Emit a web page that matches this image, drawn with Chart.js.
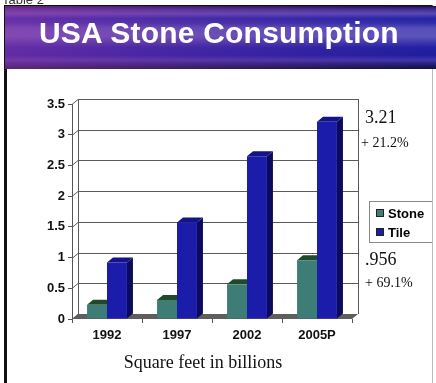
<!DOCTYPE html>
<html lang="en">
<head>
<meta charset="UTF-8">
<title>USA Stone Consumption</title>
<script src="https://cdn.jsdelivr.net/npm/chart.js"></script>
<style>
  body {
    margin: 0;
    width: 436px;
    height: 383px;
    background: #fff;
    position: relative;
    overflow: hidden;
    font-family: "Liberation Sans", Arial, sans-serif;
  }
  #grafico { position: absolute; left: 0; top: 0; }
  .tabela {
    position: absolute; left: 2px; top: -8px;
    font-size: 13px; color: #333;
  }
  .moldura {
    position: absolute; left: 4px; top: 5px; width: 429px; height: 380px;
    border-left: 3px solid #111; border-top: 1px solid #111;
    border-right: 1px solid #bbb;
    box-sizing: border-box;
  }
  .faixa {
    position: absolute; left: 5px; top: 6px; width: 431px; height: 63px;
    background:
      linear-gradient(to right, rgba(170, 60, 170, 0.5) 0%, rgba(150, 60, 170, 0.3) 45%, rgba(80, 70, 180, 0.05) 100%),
      linear-gradient(to bottom,
        #1a0a40 0%, #40309a 6%, #5a48b4 12%, #2222a4 20%, #2c2ca8 27%,
        #5450b8 35%, #5c56bc 48%, #3a36aa 58%, #1e1ea2 66%, #1a1a9c 78%,
        #3e34aa 86%, #221e70 92%, #0c0c40 100%);
  }
  .faixa span {
    position: absolute; left: 34px; top: 10px;
    color: #fff; font-weight: bold; font-size: 30px;
    font-family: "Liberation Sans", Arial, sans-serif;
    letter-spacing: 0.2px;
  }
  .nota {
    position: absolute;
    font-family: "Liberation Serif", "Times New Roman", serif;
    color: #111; line-height: 1;
  }
  .grande { font-size: 18px; }
  .pequena { font-size: 14px; }
  .unidade {
    position: absolute; left: 0; width: 406px; top: 353px;
    text-align: center; font-size: 18px; line-height: 1;
    font-family: "Liberation Serif", "Times New Roman", serif; color: #111;
  }
</style>
</head>
<body>
  <canvas id="grafico" width="436" height="383"></canvas>
  <div class="tabela">Table 2</div>
  <div class="moldura"></div>
  <div class="faixa"><span>USA Stone Consumption</span></div>

  <div class="nota grande" id="nota-tile" style="left:365px; top:108px;"></div>
  <div class="nota pequena" style="left:361px; top:136px;">+ 21.2%</div>
  <div class="nota grande" id="nota-stone" style="left:365px; top:250px;"></div>
  <div class="nota pequena" style="left:365px; top:276px;">+ 69.1%</div>
  <div class="unidade">Square feet in billions</div>

<script>
  // billions of square feet
  const anos = ["1992", "1997", "2002", "2005P"];
  const stone = [0.23, 0.31, 0.565, 0.956];
  const tile = [0.92, 1.57, 2.65, 3.21];
  const yRotulos = ["0", "0.5", "1", "1.5", "2", "2.5", "3", "3.5"];
  const yMax = 3.5;
  const yPasso = 0.5;

  // depth of the 3D effect, in pixels
  const DX = 6, DY = -5;

  document.getElementById("nota-tile").textContent = String(tile[3]);
  document.getElementById("nota-stone").textContent = String(stone[3]).replace(/^0/, "");

  const paredeGrade = {
    id: "paredeGrade",
    beforeDatasetsDraw(chart) {
      const ctx = chart.ctx;
      const a = chart.chartArea;
      const y = chart.scales.y;
      ctx.save();

      // floor
      ctx.fillStyle = "#5e5e5e";
      ctx.beginPath();
      ctx.moveTo(a.left, a.bottom);
      ctx.lineTo(a.right, a.bottom);
      ctx.lineTo(a.right + DX, a.bottom + DY);
      ctx.lineTo(a.left + DX, a.bottom + DY);
      ctx.closePath();
      ctx.fill();

      // back wall with grid lines
      ctx.strokeStyle = "#5a5a5a";
      ctx.lineWidth = 1;
      y.ticks.forEach(t => {
        const py = Math.round(y.getPixelForValue(t.value)) + 0.5;
        ctx.beginPath();
        ctx.moveTo(a.left, py);
        ctx.lineTo(a.left + DX, py + DY);
        if (t.value > 0) ctx.lineTo(a.right + DX, py + DY);
        ctx.stroke();
      });
      ctx.beginPath();
      ctx.moveTo(a.left + DX + 0.5, a.top + DY);
      ctx.lineTo(a.left + DX + 0.5, a.bottom + DY);
      ctx.moveTo(a.right + DX + 0.5, a.top + DY);
      ctx.lineTo(a.right + DX + 0.5, a.bottom + DY);
      ctx.stroke();

      // top and side faces of the bars, fronts are drawn by Chart.js
      chart.data.datasets.forEach((ds, i) => {
        chart.getDatasetMeta(i).data.forEach(bar => {
          const p = bar.getProps(["x", "y", "base", "width"], true);
          const l = p.x - p.width / 2, r = p.x + p.width / 2;
          ctx.fillStyle = ds.corLado;
          ctx.beginPath();
          ctx.moveTo(r, p.base);
          ctx.lineTo(r, p.y);
          ctx.lineTo(r + DX, p.y + DY);
          ctx.lineTo(r + DX, p.base + DY);
          ctx.closePath();
          ctx.fill();
          ctx.fillStyle = ds.corTopo;
          ctx.beginPath();
          ctx.moveTo(l, p.y);
          ctx.lineTo(r, p.y);
          ctx.lineTo(r + DX, p.y + DY);
          ctx.lineTo(l + DX, p.y + DY);
          ctx.closePath();
          ctx.fill();
        });
      });
      ctx.restore();
    }
  };

  const legendaCaixa = {
    id: "legendaCaixa",
    afterDraw(chart) {
      const ctx = chart.ctx;
      const x0 = 369, y0 = 201, w = 63, h = 41;
      ctx.save();
      ctx.strokeStyle = "#8a8a8a";
      ctx.lineWidth = 1;
      ctx.strokeRect(x0 + 0.5, y0 + 0.5, w, h);
      ctx.font = "bold 13px 'Liberation Sans', Arial, sans-serif";
      ctx.textBaseline = "middle";
      chart.data.datasets.forEach((ds, i) => {
        const cy = y0 + 12 + i * 19;
        ctx.fillStyle = ds.backgroundColor;
        ctx.fillRect(x0 + 7, cy - 4, 8, 8);
        ctx.strokeStyle = "#222";
        ctx.strokeRect(x0 + 7.5, cy - 3.5, 7, 7);
        ctx.fillStyle = "#000";
        ctx.fillText(ds.label, x0 + 19, cy + 1);
      });
      ctx.restore();
    }
  };

  new Chart(document.getElementById("grafico"), {
    type: "bar",
    data: {
      labels: anos,
      datasets: [
        {
          label: "Stone",
          data: stone,
          backgroundColor: "#3d7d76",
          corLado: "#214a40",
          corTopo: "#1e4a2c"
        },
        {
          label: "Tile",
          data: tile,
          backgroundColor: "#1c1cab",
          corLado: "#0b0b5e",
          corTopo: "#14148a"
        }
      ]
    },
    options: {
      responsive: false,
      animation: false,
      layout: { padding: { top: 104, right: 84, left: 0, bottom: 0 } },
      datasets: {
        bar: { categoryPercentage: 0.57, barPercentage: 1.0, borderWidth: 0 }
      },
      plugins: {
        legend: { display: false },
        tooltip: { enabled: false }
      },
      scales: {
        x: {
          afterFit: s => { s.height = 64; },
          grid: { drawOnChartArea: false, tickLength: 4, color: "#555", offset: true },
          border: { display: false },
          ticks: {
            color: "#111",
            padding: 5,
            font: { family: "'Liberation Sans', Arial, sans-serif", size: 13, weight: "bold" }
          }
        },
        y: {
          min: 0,
          max: yMax,
          afterFit: s => { s.width = 72; },
          grid: { drawOnChartArea: false, tickLength: 4, color: "#555" },
          border: { display: true, color: "#555" },
          ticks: {
            stepSize: yPasso,
            color: "#111",
            padding: 3,
            font: { family: "'Liberation Sans', Arial, sans-serif", size: 13, weight: "bold" },
            callback: (v, i) => yRotulos[i]
          }
        }
      }
    },
    plugins: [paredeGrade, legendaCaixa]
  });
</script>
</body>
</html>
